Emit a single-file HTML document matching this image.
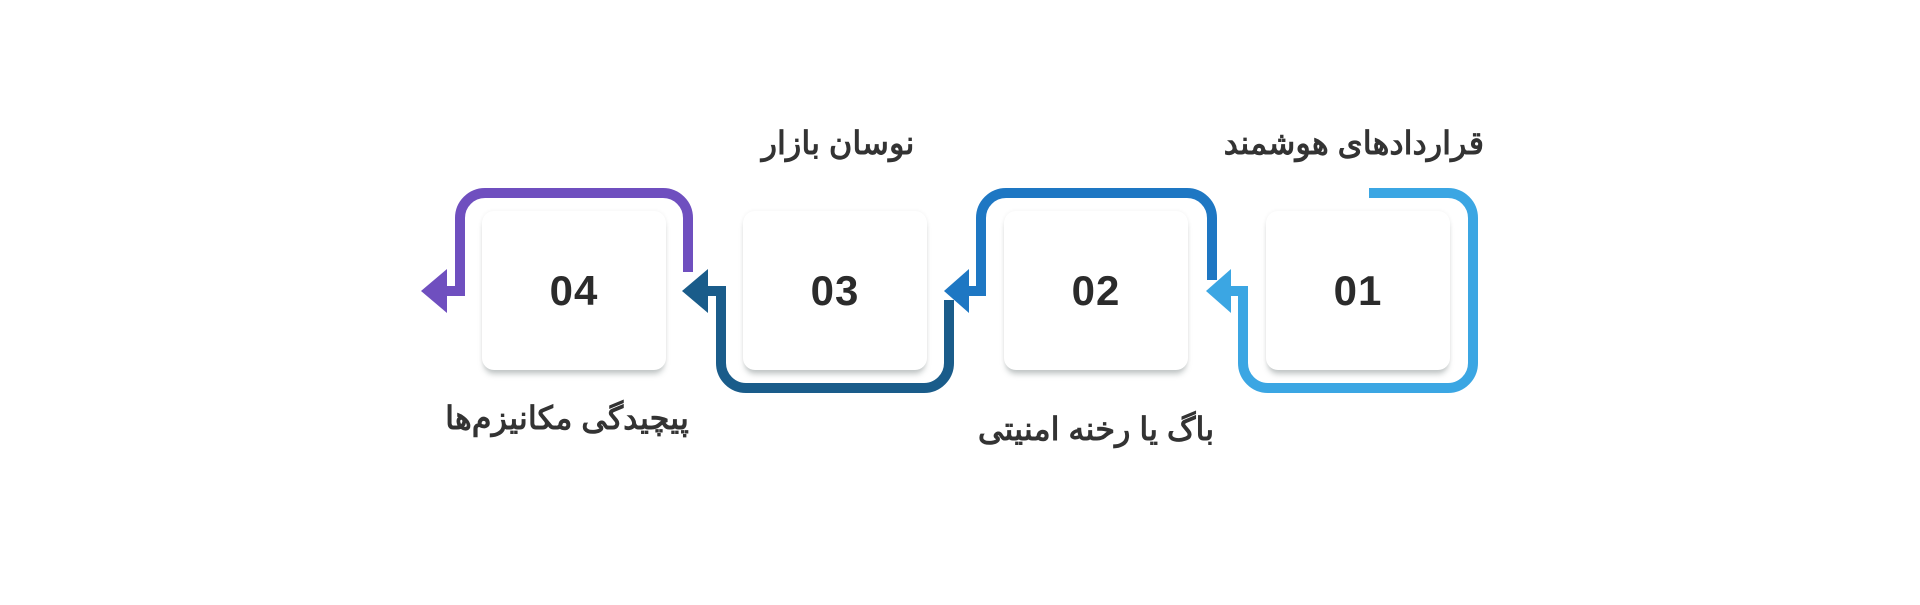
<!DOCTYPE html>
<html><head><meta charset="utf-8"><style>
html,body{margin:0;padding:0;background:#fff;width:1920px;height:605px;overflow:hidden}
.box{position:absolute;width:184px;height:159px;background:#fff;border-radius:12px;box-shadow:0 6px 6px -2px rgba(120,130,130,0.45),0 0 4px rgba(0,0,0,0.06);top:211px;display:flex;align-items:center;justify-content:center;font-family:"Liberation Sans",sans-serif;font-weight:900;font-size:42px;color:#2b2b2b;letter-spacing:1px}
.lbl{position:absolute;font-family:"Liberation Sans","Noto Sans CJK SC",sans-serif;font-weight:bold;font-size:32px;color:#333;direction:rtl;white-space:nowrap;line-height:1}
</style></head><body>
<svg width="1920" height="605" style="position:absolute;left:0;top:0">
<g fill="none" stroke-width="10" stroke-linejoin="miter">
<path d="M1369 193 H1448 A25 25 0 0 1 1473 218 V363 A25 25 0 0 1 1448 388 H1268 A25 25 0 0 1 1243 363 V291 H1228" stroke="#3ba6e3"/>
<path d="M1212 280 V218 A25 25 0 0 0 1187 193 H1006 A25 25 0 0 0 981 218 V291 H966" stroke="#1e77c3"/>
<path d="M949 300 V363 A25 25 0 0 1 924 388 H746 A25 25 0 0 1 721 363 V291 H705" stroke="#1a5c8a"/>
<path d="M688 272 V218 A25 25 0 0 0 663 193 H485 A25 25 0 0 0 460 218 V291 H444" stroke="#6f4fbf"/>
</g>
<polygon points="1369,198 1381,188 1378,198" fill="#3ba6e3"/>
<polygon points="1206,291 1231,269 1231,313" fill="#3ba6e3"/>
<polygon points="944,291 969,269 969,313" fill="#1e77c3"/>
<polygon points="682,291 708,269 708,313" fill="#1a5c8a"/>
<polygon points="421,291 447,269 447,313" fill="#6f4fbf"/>
</svg>
<div class="box" style="left:482px">04</div>
<div class="box" style="left:743px">03</div>
<div class="box" style="left:1004px">02</div>
<div class="box" style="left:1266px">01</div>
<div class="lbl" style="right:436px;top:127px">قراردادهای هوشمند</div>
<div class="lbl" style="left:838px;top:127px;transform:translateX(-50%)">نوسان بازار</div>
<div class="lbl" style="left:1096px;top:413px;transform:translateX(-50%)">باگ یا رخنه امنیتی</div>
<div class="lbl" style="left:567px;top:402px;transform:translateX(-50%)">پیچیدگی مکانیزم‌ها</div>
</body></html>
